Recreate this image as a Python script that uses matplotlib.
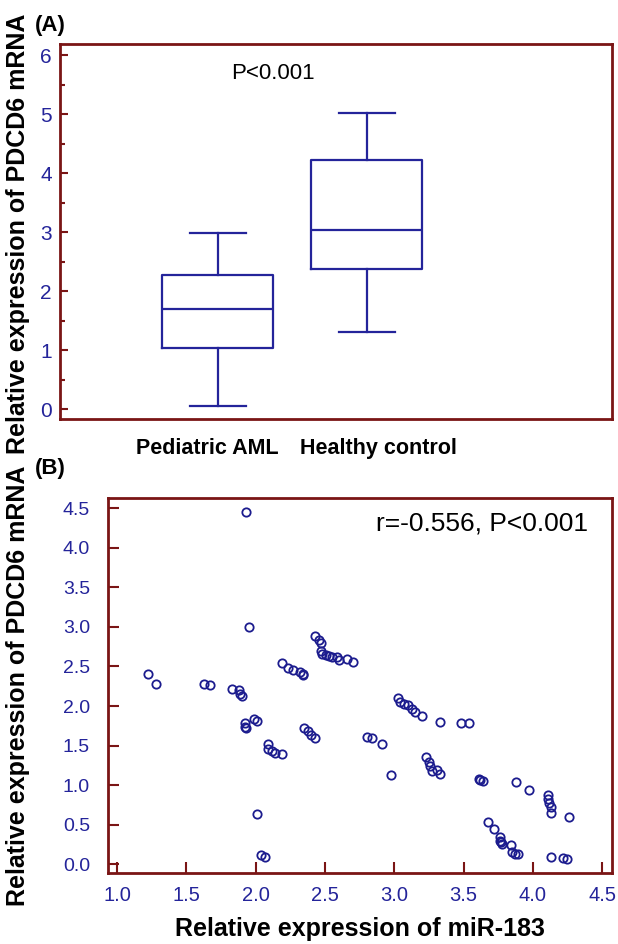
import matplotlib
matplotlib.use('Agg')
import matplotlib.pyplot as plt

# Colours
SPINE = '#7a1515'
BLUE = '#24249a'

plt.rcParams['font.family'] = ['Liberation Sans', 'DejaVu Sans']

# Panel A: box plot summaries
groups = ['Pediatric AML', 'Healthy control']
whislo = [0.05, 1.31]
q1 = [1.03, 2.38]
med = [1.70, 3.03]
q3 = [2.27, 4.22]
whishi = [2.99, 5.02]

# Panel B: scatter data (miR-183 vs PDCD6)
mir183 = [1.22, 1.28, 1.63, 1.67, 1.83, 1.88, 1.89, 1.90, 1.93, 1.95,
          1.92, 1.92, 1.93, 1.99, 2.01, 2.09, 2.09, 2.12, 2.14, 2.19,
          2.01, 2.04, 2.07, 2.19, 2.23, 2.27, 2.32, 2.34, 2.34, 2.43,
          2.46, 2.47, 2.47, 2.48, 2.51, 2.53, 2.55, 2.59, 2.60, 2.66,
          2.70, 2.35, 2.38, 2.40, 2.43, 2.80, 2.84, 2.91, 2.98, 3.03,
          3.04, 3.07, 3.10, 3.13, 3.15, 3.20, 3.33, 3.48, 3.54, 3.23,
          3.25, 3.26, 3.27, 3.31, 3.33, 3.61, 3.62, 3.64, 3.88, 3.97,
          4.11, 4.11, 4.12, 4.13, 4.13, 4.26, 3.68, 3.72, 3.76, 3.76,
          3.77, 3.78, 3.84, 3.85, 3.87, 3.89, 4.13, 4.22, 4.25]
pdcd6 = [2.40, 2.28, 2.28, 2.27, 2.22, 2.20, 2.15, 2.13, 4.45, 3.00,
         1.78, 1.74, 1.72, 1.84, 1.81, 1.52, 1.46, 1.43, 1.41, 1.40,
         0.64, 0.12, 0.09, 2.54, 2.48, 2.46, 2.43, 2.41, 2.39, 2.89,
         2.84, 2.80, 2.70, 2.66, 2.64, 2.63, 2.62, 2.62, 2.58, 2.59,
         2.56, 1.72, 1.68, 1.63, 1.60, 1.61, 1.60, 1.52, 1.13, 2.10,
         2.05, 2.03, 2.01, 1.96, 1.92, 1.87, 1.80, 1.79, 1.78, 1.35,
         1.29, 1.24, 1.18, 1.19, 1.14, 1.08, 1.07, 1.05, 1.04, 0.94,
         0.88, 0.82, 0.78, 0.72, 0.65, 0.60, 0.53, 0.45, 0.35, 0.30,
         0.28, 0.26, 0.25, 0.15, 0.13, 0.13, 0.09, 0.085, 0.07]

fig = plt.figure(figsize=(6.18, 9.44), dpi=100)
ax1 = fig.add_axes([0.0971, 0.5561, 0.8929, 0.3973])
ax2 = fig.add_axes([0.1748, 0.0752, 0.8152, 0.3973])

for ax in (ax1, ax2):
    for s in ax.spines.values():
        s.set_color(SPINE)
        s.set_linewidth(2)

# --- (A) box plot ---
stats = []
for i in range(len(groups)):
    stats.append({'whislo': whislo[i], 'q1': q1[i], 'med': med[i],
                  'q3': q3[i], 'whishi': whishi[i], 'fliers': []})
lp = dict(color=BLUE, linewidth=1.6)
ax1.bxp(stats, positions=[1, 2], widths=0.745, showfliers=False,
        boxprops=lp, medianprops=lp, whiskerprops=lp, capprops=lp)
ax1.set_xlim(-0.06, 3.644)
ax1.set_ylim(-0.17, 6.19)
ax1.set_yticks(range(7))
ax1.set_yticks([0.5, 1.5, 2.5, 3.5, 4.5, 5.5], minor=True)
ax1.tick_params(axis='y', which='major', direction='in', length=6, width=1.5,
                color=SPINE, labelcolor=BLUE, labelsize=15, pad=6)
ax1.tick_params(axis='y', which='minor', direction='in', length=3.5, width=1.5,
                color=SPINE)
ax1.set_xticks([0.93, 2.08], groups)
ax1.tick_params(axis='x', length=0, labelsize=15.5, pad=14)
for t in ax1.get_xticklabels():
    t.set_fontweight('bold')
ax1.text(0.386, 0.92, 'P<0.001', transform=ax1.transAxes, ha='center',
         va='center', fontsize=16)

# --- (B) scatter ---
ax2.plot(mir183, pdcd6, 'o', ms=6, mfc='none', mec='#1c1c8e', mew=1.3)
ax2.set_xlim(0.935, 4.57)
ax2.set_ylim(-0.11, 4.63)
ax2.set_xticks([1.0, 1.5, 2.0, 2.5, 3.0, 3.5, 4.0, 4.5])
ax2.set_yticks([0.0, 0.5, 1.0, 1.5, 2.0, 2.5, 3.0, 3.5, 4.0, 4.5])
ax2.xaxis.set_major_formatter(plt.FormatStrFormatter('%.1f'))
ax2.yaxis.set_major_formatter(plt.FormatStrFormatter('%.1f'))
ax2.tick_params(axis='y', direction='in', length=8, width=1.5, color=SPINE,
                labelcolor=BLUE, labelsize=14, pad=13)
ax2.tick_params(axis='x', direction='in', length=8, width=1.5, color=SPINE,
                labelcolor=BLUE, labelsize=14.5, pad=9)
ax2.set_xlabel('Relative expression of miR-183', fontsize=18,
               fontweight='bold', labelpad=9)
ax2.text(0.952, 0.933, 'r=-0.556, P<0.001', transform=ax2.transAxes,
         ha='right', va='center', fontsize=19)

# panel letters and y labels
fig.text(0.057, 0.973, '(A)', fontsize=16, fontweight='bold', va='center')
fig.text(0.057, 0.504, '(B)', fontsize=16, fontweight='bold', va='center')
fig.text(0.029, 0.752, 'Relative expression of PDCD6 mRNA', rotation=90,
         fontsize=18, fontweight='bold', ha='center', va='center')
fig.text(0.029, 0.273, 'Relative expression of PDCD6 mRNA', rotation=90,
         fontsize=18, fontweight='bold', ha='center', va='center')

fig.savefig('out.png', dpi=100)
